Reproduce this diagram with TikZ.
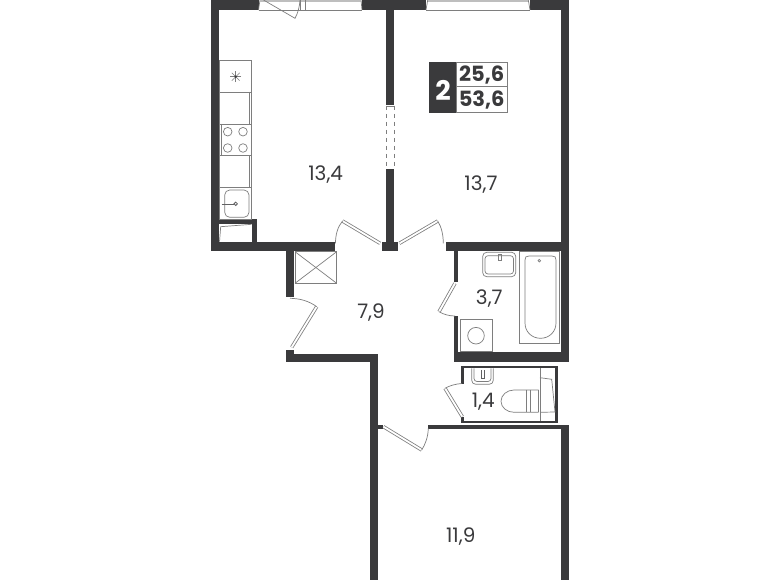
\documentclass[tikz,border=0pt]{standalone}
\usepackage{fontspec}
\setmainfont{Poppins}
\usepackage{tikz}

\begin{document}
\begin{tikzpicture}[
  x=1pt, y=-1pt,
  wall/.style={fill=wallgrey},
  thinline/.style={draw=linegrey, line width=0.7pt},
  darkline/.style={draw=wallgrey!80, line width=0.8pt},
  doorleaf/.style={draw=linegrey, line width=0.8pt, double=white, double distance=1.8pt, line cap=butt},
  doorarc/.style={draw=linegrey, line width=0.7pt},
  roomlabel/.style={text=wallgrey, font=\fontsize{20}{20}\selectfont, inner sep=0pt},
  arealabel/.style={text=wallgrey, font=\fontsize{21}{21}\selectfont\bfseries, inner sep=0pt}
]
\definecolor{wallgrey}{HTML}{3A3A3C}
\definecolor{linegrey}{HTML}{7E7E7E}
\useasboundingbox (0,0) rectangle (780,580);
\fill[white] (0,0) rectangle (780,580);

% outer and inner walls
\fill[wall] (210.5,0) rectangle (219.3,250.7);
\fill[wall] (210.5,0) rectangle (258.5,10);
\fill[wall] (362,0) rectangle (426,10);
\fill[wall] (530,0) rectangle (569,10);
\fill[wall] (386,0) rectangle (394,105);
\fill[wall] (386,169.5) rectangle (394,242);
\fill[wall] (561,0) rectangle (569,250);
\fill[wall] (210.5,242.5) rectangle (335,250.7);
\fill[wall] (382,242.5) rectangle (398,250.7);
\fill[wall] (446,242.5) rectangle (569,250.7);
\fill[wall] (285.7,250) rectangle (294,297);
\fill[wall] (285.7,350) rectangle (294,362);
\fill[wall] (285.7,354) rectangle (378,362);
\fill[wall] (370,354) rectangle (378,580);
\fill[wall] (561,250) rectangle (569,362);
\fill[wall] (454.3,352) rectangle (569,361.7);
\fill[wall] (454.3,250) rectangle (458.3,281.7);
\fill[wall] (454.3,316) rectangle (458.3,352);
\fill[wall] (561,424.5) rectangle (569,580);
\fill[wall] (428,425) rectangle (561,429);
\fill[wall] (378,425) rectangle (383,429);

% kitchen alcove
\fill[wall] (219,219.3) rectangle (256.7,224.3);
\fill[wall] (251.7,219.3) rectangle (256.7,243);
\draw[thinline] (220.7,226.7) -- (251.7,224.3);
\draw[thinline] (220.7,226.7) -- (219.5,241.7);

% wc walls
\fill[wall] (461,365.7) rectangle (558,368.5);
\fill[wall] (555,365.7) rectangle (558,423);
\fill[wall] (461,365.7) rectangle (464,384);
\fill[wall] (461,417) rectangle (464,423);
\fill[wall] (461,420.5) rectangle (558,423);

% windows
\draw[thinline] (258.5,10) -- (362,10);
\draw[thinline] (258.5,10) -- (260,0);
\draw[thinline] (362,10) -- (361,0);
\fill[linegrey!50] (260,0) rectangle (361,2);
\draw[thinline] (300,0) -- (300,10);
\draw[thinline] (305.7,0) -- (305.7,10);
\draw[thinline] (263.5,0) -- (295,18.3) .. controls (298,13) and (299.5,7) .. (300,0);
\draw[thinline] (426,10) -- (530,10);
\draw[thinline] (426,10) -- (427.7,0);
\draw[thinline] (530,10) -- (528.3,0);
\fill[linegrey!50] (427.7,0) rectangle (528.3,2);

% opening between kitchen and room
\draw[thinline] (386,106) -- (394,106);
\draw[thinline, dashed, dash pattern=on 4pt off 4pt] (386,106) -- (386,169.5);
\draw[thinline, dashed, dash pattern=on 4pt off 4pt] (394,106) -- (394,169.5);

% doors
\draw[doorleaf] (380,243.3) -- (342.5,221);
\draw[doorarc] (342.5,221) .. controls (337.5,227) and (335.5,235) .. (335.5,243.3);
\draw[doorleaf] (399.5,243.3) -- (437.7,221);
\draw[doorarc] (437.7,221) .. controls (441.5,227) and (443.3,235) .. (443.3,243.3);
\draw[doorleaf] (291.7,347.3) -- (316.7,306.7);
\draw[doorarc] (316.7,306.7) .. controls (309,301) and (300,298.5) .. (290,298.3);
\draw[doorleaf] (455,283.3) -- (439,311.7);
\draw[doorarc] (439,311.7) .. controls (444,314.5) and (449,316) .. (455,316);
\draw[doorleaf] (462.3,416.7) -- (445,388.3);
\draw[doorarc] (445,388.3) .. controls (450,385.5) and (455.5,384) .. (461.7,383.5);
\draw[doorleaf] (383.5,426.7) -- (421.7,450);
\draw[doorarc] (421.7,450) .. controls (425.5,444) and (428,437) .. (428.3,428.5);

% shaft
\draw[thinline] (295,251.7) rectangle (336.7,283.3);
\draw[thinline] (295,251.7) -- (336.7,283.3);
\draw[thinline] (295,283.3) -- (336.7,251.7);

% kitchen furniture
\draw[thinline] (219.3,60) rectangle (251.3,219.3);
\draw[thinline] (219.3,92) -- (251.3,92);
\draw[thinline] (219.3,124) -- (251.3,124);
\draw[thinline] (219.3,155.7) -- (251.3,155.7);
\draw[thinline] (219.3,187.3) -- (251.3,187.3);
\draw[thinline] (249.3,92) -- (249.3,124);
\draw[thinline] (249.3,155.7) -- (249.3,187.3);
\draw[thinline] (221,124) -- (221,155.7);
\foreach \angle in {0,45,...,135} {
  \draw[thinline, line width=0.5pt] (235.7,76.7) ++(\angle:5.5) -- ++(\angle+180:11);
}
\fill[wallgrey] (235.7,76.7) circle (1.3);
\foreach \cx in {227.7,243} {
  \foreach \cy in {131.7,148} {
    \draw[thinline] (\cx,\cy) circle (4.3);
  }
}
\draw[thinline, rounded corners=5pt] (224.7,190) rectangle (249,217.3);
\draw[darkline] (221.7,204) -- (234,204);
\draw[darkline] (235.7,203.8) circle (1.7);

% bathroom furniture
\draw[thinline, rounded corners=4pt] (482.7,252.3) rectangle (515.7,276.7);
\draw[thinline, rounded corners=3pt] (485,255.7) rectangle (513.5,274);
\draw[thinline] (498,254) rectangle (501,260);
\draw[thinline] (519.3,251.7) rectangle (559.3,343.3);
\draw[thinline] (525,260) .. controls (525,257) and (526,256) .. (529,256) -- (552,256)
  .. controls (555,256) and (556,257) .. (556,260) -- (556,323)
  .. controls (556,332) and (549,338.3) .. (540.5,338.3)
  .. controls (532,338.3) and (525,332) .. (525,323) -- cycle;
\draw[thinline] (539.3,260.7) circle (1.3);
\draw[thinline] (460,319) rectangle (492.7,351.7);
\draw[thinline] (476,335.7) circle (8.3);

% wc furniture
\draw[thinline, rounded corners=4pt] (471.7,368.5) -- (471.7,384.3) -- (493.3,384.3) -- (493.3,368.5);
\draw[thinline, rounded corners=3pt] (474,368.5) -- (474,381.5) -- (491,381.5) -- (491,368.5);
\draw[darkline] (481,370) -- (481,378) -- (484,378) -- (484,370);
\draw[thinline] (538.5,390) -- (514,390) .. controls (507,390) and (501,395) .. (501,401.2)
  .. controls (501,407.5) and (507,412.3) .. (514,412.3) -- (538.5,412.3);
\draw[thinline] (526.7,390) -- (526.7,412.3);
\draw[thinline] (530,390) -- (530,412.3);
\draw[thinline] (538.5,390) -- (538.5,412.3);
\draw[thinline] (540,368.5) -- (540,420.5);
\draw[thinline] (540,377.7) -- (551.7,379.3) -- (555,412) -- (540,412.3);

% area table
\fill[wallgrey] (429,62.3) rectangle (456.7,112.7);
\draw[thinline] (456.7,62.3) rectangle (507.3,112.7);
\draw[thinline] (456.7,86.7) -- (507.3,86.7);
\node[text=white, font=\fontsize{27}{27}\selectfont\bfseries, inner sep=0pt] (rooms) at (443,90) {2};
\node[arealabel] (livingarea) at (481.7,75) {25,6};
\node[arealabel] (totalarea) at (481.7,100) {53,6};

% room areas
\node[roomlabel] (kitchen) at (325.7,175) {13,4};
\node[roomlabel] (bedroom) at (481,185) {13,7};
\node[roomlabel] (hall) at (371,312.7) {7,9};
\node[roomlabel] (bath) at (489.3,298.3) {3,7};
\node[roomlabel] (wc) at (483.3,401.7) {1,4};
\node[roomlabel] (room) at (460.7,536.7) {11,9};
\end{tikzpicture}
\end{document}
